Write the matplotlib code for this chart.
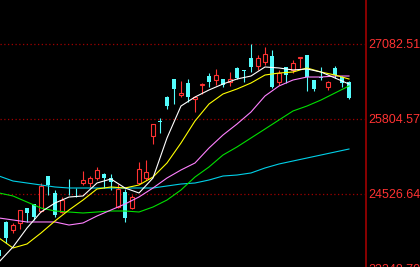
import numpy as np
import matplotlib
matplotlib.use("Agg")
import matplotlib.pyplot as plt

# candle data (open, high, low, close), one per trading day
opens = [23572, 24049, 23913, 24032, 24288, 24356, 24237, 24833, 24544, 24220,
         24580, 24580, 24714, 24714, 24799, 24867, 24799, 24305, 24561, 24288,
         24714, 24799, 25515, 25770, 26179, 26486, 26222, 26418, 26145, 26384,
         26537, 26469, 26486, 26435, 26674, 26631, 26844, 26708, 26776, 26878,
         26435, 26691, 26640, 26844, 26895, 26469, 26520, 26350, 26674, 26520,
         26435]
highs = [23606, 24060, 24032, 24260, 24295, 24360, 24714, 24840, 24595, 24475,
         24782, 24629, 24919, 24833, 24987, 24884, 24867, 24697, 24612, 24510,
         25072, 25106, 25725, 25822, 26196, 26490, 26452, 26486, 26196, 26418,
         26588, 26657, 26490, 26605, 26691, 26640, 27082, 26895, 27032, 26980,
         26640, 26695, 26810, 26865, 26900, 26475, 26691, 26452, 26708, 26537,
         26452]
lows = [23436, 23692, 23862, 23930, 24049, 24084, 24220, 24510, 24135, 24210,
        24510, 24475, 24680, 24646, 24765, 24629, 24595, 24288, 24049, 24271,
        24705, 24765, 25379, 25566, 25975, 26060, 26179, 26094, 25924, 26231,
        26350, 26384, 26350, 26367, 26486, 26435, 26605, 26640, 26725, 26333,
        26384, 26418, 26588, 26674, 26282, 26282, 26469, 26299, 26503, 26350,
        26145]
closes = [23470, 23777, 23998, 24254, 24203, 24135, 24663, 24680, 24169, 24424,
          24570, 24570, 24765, 24799, 24936, 24799, 24731, 24612, 24118, 24475,
          24953, 24901, 25719, 25753, 26026, 26316, 26248, 26179, 26179, 26401,
          26435, 26554, 26384, 26486, 26503, 26614, 26691, 26844, 26912, 26350,
          26588, 26554, 26759, 26861, 26520, 26316, 26508, 26435, 26554, 26418,
          26162]

# moving averages read every second day
ma_idx = list(range(0, 51, 2))
ma5 = [23368, 23624, 23947, 24220, 24373, 24475, 24493, 24714, 24782, 24629,
       24544, 24799, 25481, 26026, 26179, 26299, 26401, 26486, 26537, 26691,
       26674, 26640, 26657, 26605, 26503, 26401]
ma10 = [23777, 23607, 23675, 23862, 24067, 24254, 24424, 24612, 24646, 24629,
        24680, 24816, 25055, 25396, 25771, 26060, 26231, 26316, 26418, 26554,
        26588, 26605, 26674, 26605, 26554, 26486]
ma20 = [24118, 24084, 24050, 24050, 24050, 23998, 24033, 24152, 24254, 24356,
        24476, 24629, 24799, 24936, 25055, 25310, 25532, 25719, 25924, 26197,
        26367, 26469, 26520, 26520, 26537, 26537]
ma30 = [24544, 24493, 24390, 24288, 24237, 24220, 24203, 24220, 24237, 24237,
        24220, 24305, 24424, 24595, 24816, 24987, 25191, 25328, 25481, 25634,
        25788, 25941, 26026, 26128, 26248, 26367]
ma60 = [24833, 24748, 24714, 24680, 24646, 24629, 24629, 24629, 24629, 24629,
        24629, 24629, 24663, 24697, 24714, 24765, 24833, 24850, 24885, 24970,
        25038, 25089, 25140, 25191, 25242, 25293]

price_ticks = [27082.51, 25804.57, 24526.64, 23248.70]

UP = "#ff3232"
DOWN = "#54fcfc"
AXIS = "#a00000"

fig = plt.figure(figsize=(4.2, 2.67), dpi=100, facecolor="black")
ax = fig.add_axes([0, -0.05, 366 / 420, 1.05])
ax.set_facecolor("black")

x = np.arange(len(opens))
o = np.array(opens, dtype=float)
c = np.array(closes, dtype=float)
h = np.array(highs, dtype=float)
l = np.array(lows, dtype=float)
up = c >= o
down = ~up

# wicks
ax.vlines(x[up], l[up], h[up], color=UP, lw=0.8, zorder=2)
ax.vlines(x[down], l[down], h[down], color=DOWN, lw=0.8, zorder=2)

# bodies
body_h = np.maximum(np.abs(c - o), 12)
bottom = np.minimum(o, c)
ax.bar(x[down], body_h[down], bottom=bottom[down], width=0.71,
       color=DOWN, lw=0, zorder=3)
ax.bar(x[up], np.abs(c - o)[up], bottom=bottom[up], width=0.57,
       facecolor="black", edgecolor=UP, lw=0.8, zorder=3)

# moving averages
for vals, col in [(ma60, "#00d0e8"), (ma30, "#00e000"), (ma20, "#ff80ff"),
                  (ma10, "#ffff00"), (ma5, "#ffffff")]:
    ax.plot(ma_idx, vals, color=col, lw=0.8, zorder=4)

for p in price_ticks:
    ax.axhline(p, xmax=0.994, color=AXIS, lw=0.9, ls=(0, (1, 2)), zorder=1)

ax.set_xlim(0.143, 52.43)
ax.set_ylim(23055.3, 27832.2)

ax.yaxis.tick_right()
ax.set_yticks(price_ticks)
ax.set_yticklabels(["%.2f" % p for p in price_ticks])
ax.tick_params(axis="y", length=0, pad=1.5, colors=UP, labelsize=9)
ax.set_xticks([])
for lab in ax.get_yticklabels():
    lab.set_family("Liberation Sans")

for side in ["left", "top", "bottom"]:
    ax.spines[side].set_visible(False)
ax.spines["right"].set_color(AXIS)
ax.spines["right"].set_linewidth(1.2)

fig.savefig("out.png", dpi=100, facecolor="black")
